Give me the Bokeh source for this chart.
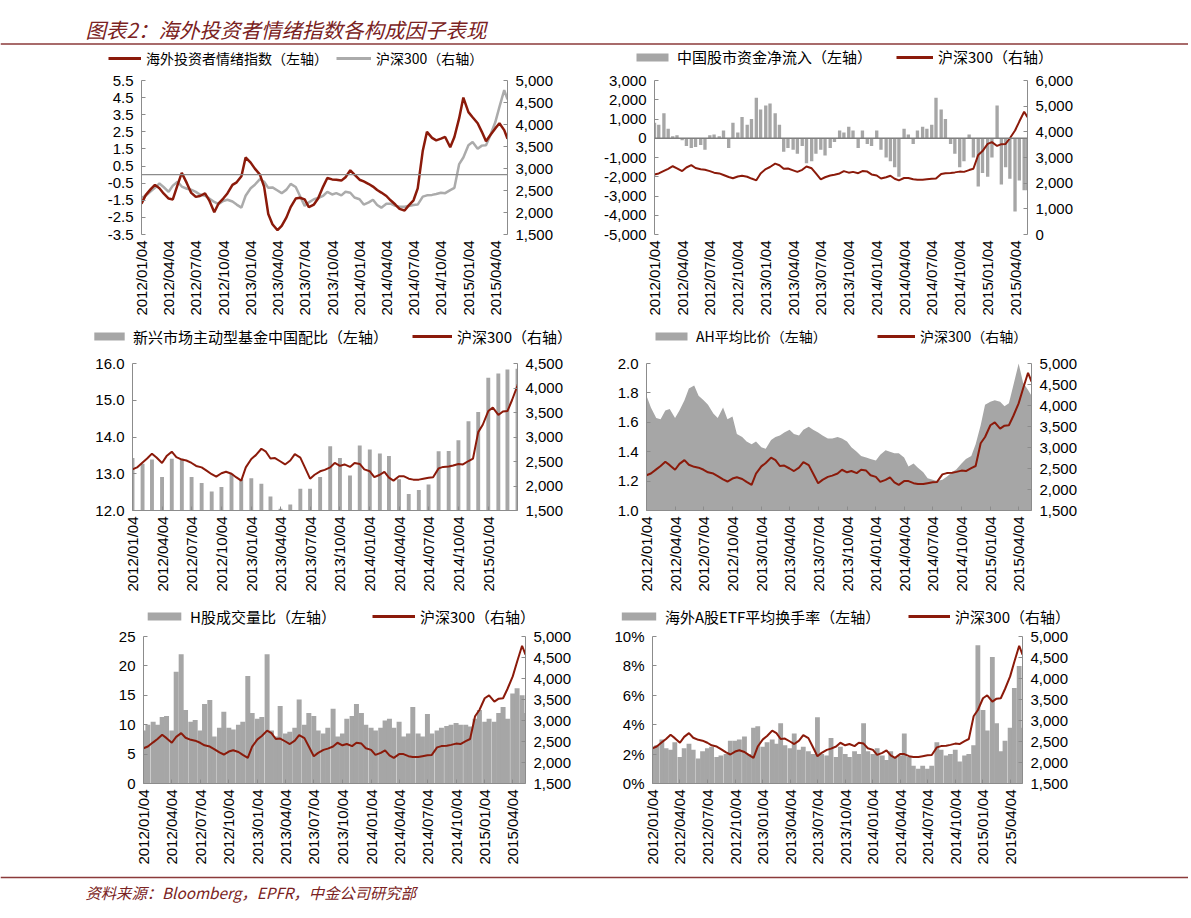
import math
import pandas as pd
from bokeh.plotting import figure
from bokeh.models import (Range1d, LinearAxis, FixedTicker, DatetimeTickFormatter,
                          NumeralTickFormatter, PrintfTickFormatter, Legend, LegendItem,
                          Span, Label)
from bokeh.layouts import column, row
from bokeh.embed import file_html
from bokeh.resources import INLINE

# ---------------- data ----------------
# semi-monthly observation dates (4th and 18th of each month) up to 2015-05-15
dates = []
for yy in range(2012, 2016):
    for mm in range(1, 13):
        for dd in (4, 18):
            t = pd.Timestamp(yy, mm, dd)
            if t <= pd.Timestamp(2015, 5, 4):
                dates.append(t)
dates.append(pd.Timestamp(2015, 5, 15))

# monthly dates for the EM fund allocation bars
month_dates = [pd.Timestamp(yy, mm, 4) for yy in range(2012, 2016) for mm in range(1, 13)
               if pd.Timestamp(yy, mm, 4) <= pd.Timestamp(2015, 4, 4)]

tick_labels = ["2012/01/04", "2012/04/04", "2012/07/04", "2012/10/04",
               "2013/01/04", "2013/04/04", "2013/07/04", "2013/10/04",
               "2014/01/04", "2014/04/04", "2014/07/04", "2014/10/04",
               "2015/01/04", "2015/04/04"]

csi300 = [2340, 2380, 2480, 2560, 2660, 2580, 2470, 2610, 2700, 2590,
          2540, 2520, 2470, 2410, 2380, 2320, 2240, 2190, 2260, 2290,
          2250, 2180, 2110, 2380, 2550, 2630, 2760, 2700, 2560, 2570,
          2500, 2440, 2520, 2650, 2580, 2380, 2150, 2230, 2300, 2330,
          2380, 2470, 2410, 2440, 2390, 2470, 2450, 2340, 2300, 2180,
          2230, 2290, 2170, 2110, 2200, 2200, 2150, 2130, 2130, 2150,
          2170, 2180, 2360, 2390, 2400, 2420, 2450, 2440, 2510, 2560,
          3100, 3250, 3530, 3600, 3450, 3520, 3530, 3750, 4050, 4400,
          4780, 4570]

sentiment = [-1.7, -1.2, -0.85, -0.6, -0.8, -1.1, -1.4, -1.45, -0.6, 0.1,
             -0.5, -1.05, -1.3, -1.25, -1.1, -1.5, -2.2, -1.7, -1.4, -1.1,
             -0.6, -0.45, -0.1, 1.0, 0.7, 0.35, 0.0, -0.7, -2.3, -2.9,
             -3.25, -3.0, -2.5, -1.9, -1.4, -1.35, -1.45, -1.9, -1.75, -1.4,
             -0.7, -0.2, -0.28, -0.3, -0.35, -0.15, 0.25, 0.0, -0.3, -0.4,
             -0.55, -0.7, -0.9, -1.05, -1.25, -1.5, -1.75, -2.0, -2.1, -1.8,
             -1.5, -0.8, 1.4, 2.5, 2.15, 2.0, 2.1, 2.2, 1.6, 2.2,
             3.3, 4.5, 3.65, 3.35, 3.0, 2.5, 1.95, 2.3, 2.7, 3.0,
             2.6, 2.1]

net_flow = [800, 700, 1300, 500, 100, 150, -100, -400, -500, -450,
            -350, -600, 150, 200, 100, 400, -500, 800, 300, 1100,
            700, 1000, 2100, 1500, 1700, 1800, 1300, 700, -700, -500,
            -600, -800, -400, -1300, -1200, -800, -600, -900, -500, -200,
            400, 300, 600, 400, -500, 400, -300, -400, 400, -600,
            -1000, -1200, -1500, -2000, 500, 200, -300, 400, 600, 500,
            700, 2100, 1500, 1000, -300, -800, -1500, -1200, 200, -1000,
            -2500, -1800, -2000, -1000, 1700, -2400, -1500, -2100, -3800, -2200,
            -2700, -2700]

em_china = [13.43, 13.27, 13.39, 12.91, 13.41, 13.41, 12.91, 12.75, 12.52, 12.64,
            13.00, 12.85, 12.88, 12.73, 12.38, 12.05, 12.16, 12.59, 12.59, 12.91,
            13.75, 13.43, 12.95, 13.77, 13.66, 13.55, 13.48, 12.85, 12.45, 12.56,
            12.71, 13.61, 13.62, 13.91, 14.43, 14.68, 15.61, 15.73, 15.84, 15.86]

ah_ratio = [1.78, 1.70, 1.63, 1.62, 1.68, 1.69, 1.63, 1.68, 1.75, 1.83,
            1.85, 1.78, 1.75, 1.72, 1.66, 1.63, 1.70, 1.62, 1.64, 1.52,
            1.50, 1.47, 1.45, 1.47, 1.43, 1.42, 1.48, 1.50, 1.51, 1.53,
            1.55, 1.52, 1.51, 1.55, 1.57, 1.55, 1.53, 1.51, 1.49, 1.49,
            1.50, 1.49, 1.47, 1.43, 1.40, 1.37, 1.36, 1.35, 1.34, 1.38,
            1.41, 1.40, 1.39, 1.39, 1.36, 1.30, 1.32, 1.29, 1.26, 1.22,
            1.21, 1.20, 1.21, 1.23, 1.26, 1.28, 1.32, 1.35, 1.37, 1.45,
            1.58, 1.72, 1.74, 1.75, 1.74, 1.71, 1.73, 1.85, 2.00, 1.87,
            1.82, 1.78]

h_volume = [9.0, 10.0, 10.5, 10.0, 11.3, 11.5, 9.0, 19.0, 22.0, 12.5,
            10.5, 10.8, 9.0, 13.5, 14.2, 8.0, 9.5, 12.2, 9.5, 9.2,
            10.0, 10.5, 18.3, 12.0, 11.0, 11.3, 22.0, 9.0, 8.0, 13.2,
            8.5, 8.8, 9.5, 14.3, 10.0, 12.0, 11.5, 9.0, 8.5, 9.5,
            12.7, 8.0, 8.5, 11.0, 11.5, 13.5, 12.0, 10.0, 9.5, 9.0,
            9.5, 10.7, 11.0, 9.5, 10.5, 8.0, 8.5, 13.0, 8.5, 8.0,
            11.8, 8.5, 9.0, 9.5, 9.8, 10.0, 10.3, 10.0, 10.0, 9.7,
            11.0, 12.5, 10.5, 11.0, 10.5, 12.0, 13.0, 11.0, 15.3, 16.2,
            15.0, 12.0]

etf_turnover = [2.5, 2.6, 3.0, 2.4, 2.3, 2.8, 1.8, 2.4, 2.7, 2.3,
                1.7, 2.2, 2.4, 2.5, 1.8, 1.9, 2.0, 2.9, 2.9, 3.0,
                3.2, 2.0, 3.8, 3.9, 2.5, 2.8, 3.0, 2.7, 4.1, 2.6,
                2.4, 3.4, 2.3, 2.5, 2.2, 2.0, 4.5, 2.0, 1.9, 3.1,
                1.8, 2.5, 2.0, 1.8, 2.2, 2.0, 4.1, 2.2, 2.0, 2.4,
                1.9, 1.6, 2.2, 1.8, 1.9, 3.4, 1.8, 1.2, 1.0, 1.2,
                1.0, 1.2, 2.8, 2.3, 1.9, 2.0, 2.3, 1.5, 1.9, 2.0,
                2.6, 9.4, 5.0, 3.6, 8.6, 4.1, 2.2, 2.9, 3.8, 6.5,
                8.0, 3.8]

# ---------------- style ----------------
RED = "#8B1A0A"
GRAY = "#A6A6A6"
GRAY_LINE = "#ABABAB"
AXIS = "#8C8C8C"
TITLE_RED = "#7A2222"
CJK = "Noto Sans CJK SC"
LATIN = "Liberation Sans"
DAY = 24 * 3600 * 1000
PAGE_W = 1188

tick_ts = [pd.Timestamp(s.replace("/", "-")) for s in tick_labels]
tick_ms = [t.timestamp() * 1000 for t in tick_ts]
fmt = "%Y/%m/%d"
dt_formatter = DatetimeTickFormatter(milliseconds=fmt, seconds=fmt, minsec=fmt, minutes=fmt,
                                     hourmin=fmt, hours=fmt, days=fmt, months=fmt, years=fmt)


def style_axis(ax):
    ax.axis_line_color = AXIS
    ax.axis_line_width = 1
    ax.major_tick_line_color = AXIS
    ax.major_tick_in = 4
    ax.major_tick_out = 0
    ax.minor_tick_line_color = None
    ax.major_label_text_font = LATIN
    ax.major_label_text_font_size = "15px"
    ax.major_label_text_color = "#000000"
    ax.major_label_standoff = 8


def panel(width, height, bl, br, bt, bb, x_end, yr, yticks, yfmt, rr, rticks, ticks_ms,
          x_line=True):
    p = figure(width=width, height=height, x_axis_type="datetime",
               x_range=Range1d(pd.Timestamp(2012, 1, 4), x_end), y_range=yr,
               min_border_left=bl, min_border_right=br, min_border_top=bt,
               min_border_bottom=bb, output_backend="svg", toolbar_location=None)
    p.grid.visible = False
    p.outline_line_color = None
    p.extra_y_ranges = {"r": rr}
    rax = LinearAxis(y_range_name="r", ticker=FixedTicker(ticks=rticks),
                     formatter=NumeralTickFormatter(format="0,0"))
    p.add_layout(rax, "right")
    lax = p.left[0]
    lax.ticker = FixedTicker(ticks=yticks)
    lax.formatter = yfmt
    style_axis(lax)
    style_axis(rax)
    xax = p.below[0]
    xax.ticker = FixedTicker(ticks=ticks_ms)
    xax.formatter = dt_formatter
    style_axis(xax)
    xax.major_label_orientation = math.pi / 2
    xax.major_label_standoff = 6
    if not x_line:
        xax.axis_line_color = None
        xax.major_tick_line_color = None
    return p


def bare(height):
    f = figure(width=PAGE_W, height=height, x_range=Range1d(0, PAGE_W),
               y_range=Range1d(0, height), min_border_left=0, min_border_right=0,
               min_border_top=0, min_border_bottom=0, x_axis_type=None, y_axis_type=None,
               output_backend="svg", toolbar_location=None)
    f.grid.visible = False
    f.outline_line_color = None
    return f


def legend_strip(height, specs):
    """Legend keys for a row of panels. The key renderers carry the series but lie
    outside this strip's pixel ranges, so only their legend glyphs are seen.
    specs: (kind, colour, label, x_left, y_center_from_top, font_px, glyph_w, xs, ys)"""
    f = bare(height)
    for kind, colour, label, x, yc, fs, gw, xs, ys in specs:
        if kind == "line":
            r = f.line(x=xs, y=ys, line_color=colour, line_width=3)
        else:
            r = f.vbar(x=xs, top=ys, width=DAY, fill_color=colour, line_color=None)
        H = 1.45 * fs
        leg = Legend(items=[LegendItem(label=label, renderers=[r])],
                     location=(x, height - yc - H / 2), orientation="horizontal",
                     padding=0, margin=0, spacing=0, glyph_width=gw, glyph_height=10,
                     label_standoff=5, label_height=14, label_width=10,
                     label_text_font=CJK, label_text_font_size=f"{fs}px",
                     label_text_color="#000000", border_line_color=None,
                     background_fill_alpha=0, label_text_baseline="middle")
        f.add_layout(leg)
    return f


END = pd.Timestamp(2015, 5, 15)
step5 = [1500 + 500 * k for k in range(8)]

# ---------------- row 1 ----------------
leg1 = legend_strip(25, [
    ("line", RED, "海外投资者情绪指数（左轴）", 108, 13, 14, 33, dates, sentiment),
    ("line", GRAY_LINE, "沪深300（右轴）", 336, 13, 14, 35, dates, csi300),
    ("bar", GRAY, "中国股市资金净流入（左轴）", 632, 11.5, 15, 40, dates, net_flow),
    ("line", RED, "沪深300（右轴）", 896, 11.5, 15, 37, dates, csi300),
])

p1 = panel(580, 255, 141, 73, 10, 91, END, Range1d(-3.5, 5.5),
           [-3.5 + k for k in range(10)], NumeralTickFormatter(format="0.0"),
           Range1d(1500, 5000), step5, tick_ms, x_line=False)
p1.add_layout(Span(location=0, dimension="width", line_color="#8C8C8C", line_width=1.2))
p1.line(dates, csi300, y_range_name="r", line_color=GRAY_LINE, line_width=2.5)
p1.line(dates, sentiment, line_color=RED, line_width=2.5)

p2 = panel(608, 255, 74, 161, 9, 86, END, Range1d(-5000, 3000),
           [-5000 + 1000 * k for k in range(9)], NumeralTickFormatter(format="0,0"),
           Range1d(0, 6000), [1000 * k for k in range(7)], tick_ms, x_line=False)
p2.vbar(x=dates, top=net_flow, bottom=0, width=11 * DAY, fill_color=GRAY, line_color=None)
p2.add_layout(Span(location=0, dimension="width", line_color="#7F7F7F", line_width=1.6))
p2.line(dates, csi300, y_range_name="r", line_color=RED, line_width=2)

# ---------------- row 2 ----------------
leg2 = legend_strip(22, [
    ("bar", GRAY, "新兴市场主动型基金中国配比（左轴）", 90, 11, 15, 38, month_dates, em_china),
    ("line", RED, "沪深300（右轴）", 412, 11, 15, 40, dates, csi300),
    ("bar", GRAY, "AH平均比价（左轴）", 651, 11, 14, 40, dates, ah_ratio),
    ("line", RED, "沪深300（右轴）", 877, 11, 14, 38, dates, csi300),
])

p3 = panel(580, 258, 132, 63, 16, 95, pd.Timestamp(2015, 4, 4), Range1d(12, 16),
           [12, 13, 14, 15, 16], NumeralTickFormatter(format="0.0"),
           Range1d(1500, 4500), [1500 + 500 * k for k in range(7)], tick_ms[:13])
p3.vbar(x=month_dates, top=em_china, bottom=12, width=12 * DAY, fill_color=GRAY,
        line_color=None)
p3.line(dates, csi300, y_range_name="r", line_color=RED, line_width=2)

p4 = panel(608, 258, 66, 157, 9, 92, END, Range1d(1.0, 2.0),
           [1.0, 1.2, 1.4, 1.6, 1.8, 2.0], NumeralTickFormatter(format="0.0"),
           Range1d(1500, 5000), step5, tick_ms)
p4.varea(x=dates, y1=1.0, y2=ah_ratio, fill_color=GRAY)
p4.line(dates, csi300, y_range_name="r", line_color=RED, line_width=2)

# ---------------- row 3 ----------------
leg3 = legend_strip(22, [
    ("bar", GRAY, "H股成交量比（左轴）", 143, 11, 15, 42, dates, h_volume),
    ("line", RED, "沪深300（右轴）", 372, 11, 15, 43, dates, csi300),
    ("bar", GRAY, "海外A股ETF平均换手率（左轴）", 617, 11, 15, 43, dates, etf_turnover),
    ("line", RED, "沪深300（右轴）", 908, 11, 15, 42, dates, csi300),
])

p5 = panel(580, 248, 143, 55, 9, 92, END, Range1d(0, 25),
           [0, 5, 10, 15, 20, 25], NumeralTickFormatter(format="0"),
           Range1d(1500, 5000), step5, tick_ms)
p5.vbar(x=dates, top=h_volume, bottom=0, width=16 * DAY, fill_color=GRAY, line_color=None)
p5.line(dates, csi300, y_range_name="r", line_color=RED, line_width=2)

p6 = panel(608, 248, 72, 166, 9, 91, END, Range1d(0, 10),
           [0, 2, 4, 6, 8, 10], PrintfTickFormatter(format="%d%%"),
           Range1d(1500, 5000), step5, tick_ms)
p6.vbar(x=dates, top=etf_turnover, bottom=0, width=16 * DAY, fill_color=GRAY,
        line_color=None)
p6.line(dates, csi300, y_range_name="r", line_color=RED, line_width=2)


# ---------------- title & footer ----------------
def text_strip(height, text, text_y, rule_y, size):
    f = bare(height)
    f.add_layout(Span(location=rule_y, dimension="width", line_color="#8B3A3A",
                      line_width=1.3))
    f.add_layout(Label(x=85, y=text_y, text=text, text_font=CJK, text_font_size=size,
                       text_font_style="italic", text_color=TITLE_RED,
                       text_baseline="middle", text_align="left"))
    return f


title_fig = text_strip(45, "图表2：海外投资者情绪指数各构成因子表现", 17, 1.5, "20.5px")
footer_fig = text_strip(30, "资料来源：Bloomberg，EPFR，中金公司研究部", 14, 28, "15.3px")

layout = column(title_fig, leg1, row(p1, p2), leg2, row(p3, p4), leg3, row(p5, p6),
                footer_fig)
open("out.html", "w").write(file_html(layout, INLINE))
